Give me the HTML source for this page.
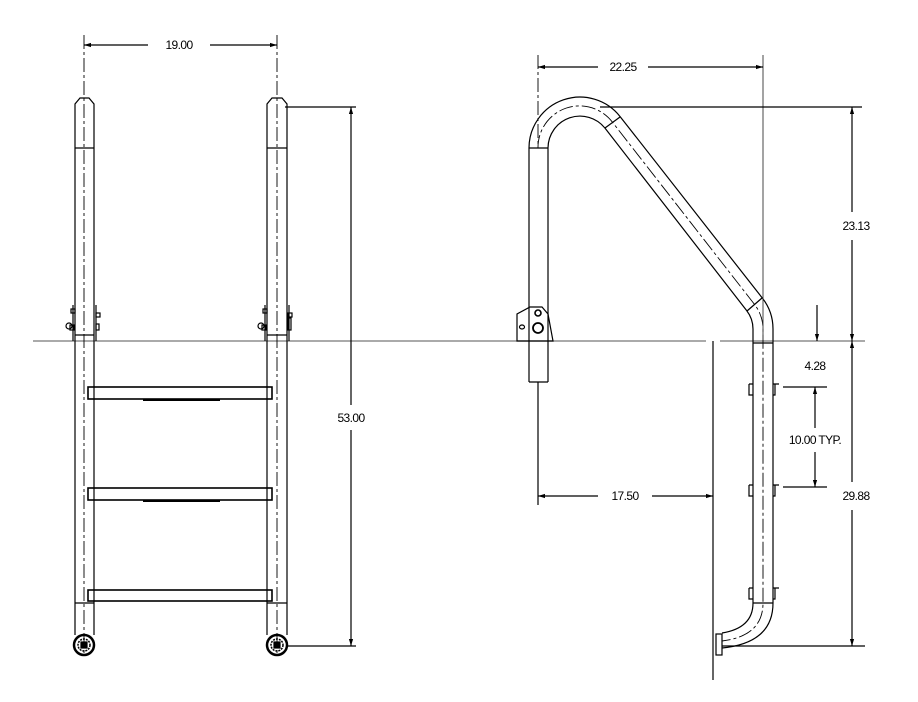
<!DOCTYPE html>
<html><head><meta charset="utf-8"><style>
html,body{margin:0;padding:0;background:#fff;}
svg{display:block;}
text{font-family:"Liberation Sans",sans-serif;font-size:12px;font-weight:normal;fill:#000;letter-spacing:-0.6px;}
</style></head><body>
<svg width="918" height="702" viewBox="0 0 918 702" xmlns="http://www.w3.org/2000/svg">
<defs>
<marker id="a" viewBox="0 0 10 10" refX="10" refY="5" markerWidth="7" markerHeight="7" orient="auto-start-reverse" markerUnits="userSpaceOnUse"><path d="M0,2 L10,5 L0,8 z" fill="#000"/></marker>
</defs>
<g fill="none" stroke="#000" stroke-width="1.2">
<line x1="33" y1="341" x2="706" y2="341" stroke="#777"/>
<line x1="720" y1="341" x2="865" y2="341" stroke="#777"/>

<path d="M75,635 V104 L80,98 H89 L94,104 V635"/>
<path d="M267,635 V104 L272,98 H282 L287,104 V635"/>
<line x1="75" y1="148" x2="94" y2="148"/><line x1="267" y1="148" x2="287" y2="148"/>
<line x1="75" y1="335" x2="94" y2="335"/><line x1="267" y1="335" x2="287" y2="335"/>
<line x1="75" y1="603" x2="94" y2="603"/><line x1="267" y1="603" x2="287" y2="603"/>
<line x1="84" y1="35" x2="84" y2="655" stroke-dasharray="14,3,3,3" stroke-width="0.9"/>
<line x1="277" y1="35" x2="277" y2="655" stroke-dasharray="14,3,3,3" stroke-width="0.9"/>
<rect x="71" y="309" width="4" height="4"/><rect x="96" y="313" width="4" height="4"/><rect x="96" y="324" width="3" height="6"/>
<circle cx="69" cy="326" r="3"/><rect x="70" y="325" width="4" height="5"/>
<rect x="263" y="309" width="4" height="4"/><rect x="288" y="313" width="4" height="4"/><rect x="288" y="318" width="3" height="12"/>
<circle cx="261" cy="326" r="3"/><rect x="262" y="325" width="4" height="5"/>
<line x1="73" y1="305" x2="73" y2="341"/><line x1="96" y1="305" x2="96" y2="341"/>
<line x1="265" y1="305" x2="265" y2="341"/><line x1="289" y1="305" x2="289" y2="341"/>
<rect x="88" y="387" width="184" height="12" stroke-width="1.6"/>
<rect x="88" y="488" width="184" height="12" stroke-width="1.6"/>
<rect x="88" y="590" width="184" height="11" stroke-width="1.6"/>
<line x1="143" y1="400" x2="220" y2="400" stroke-width="2"/>
<line x1="143" y1="501" x2="220" y2="501" stroke-width="2"/>
<circle cx="84" cy="645" r="10" stroke-width="2.5"/><circle cx="84" cy="645" r="6" stroke-width="1.5" stroke-dasharray="2,1"/><rect x="81" y="642" width="6" height="6" fill="#000"/>
<circle cx="277" cy="645" r="10" stroke-width="2.5"/><circle cx="277" cy="645" r="6" stroke-width="1.5" stroke-dasharray="2,1"/><rect x="274" y="642" width="6" height="6" fill="#000"/>
<line x1="84" y1="45" x2="148" y2="45" marker-start="url(#a)"/>
<line x1="210" y1="45" x2="277" y2="45" marker-end="url(#a)"/>
<line x1="285" y1="107" x2="356" y2="107"/>
<line x1="287" y1="646" x2="356" y2="646"/>
<line x1="351" y1="107" x2="351" y2="405" marker-start="url(#a)"/>
<line x1="351" y1="430" x2="351" y2="646" marker-end="url(#a)"/>

<path d="M529,382 V148 A51,51 0 0 1 620.2,116.7 L762.5,298.3 A50,50 0 0 1 773,329 V603 Q773,643 722,648"/>
<path d="M548,382 V148 A32,32 0 0 1 605.2,128.4 L746.7,310.6 A30,30 0 0 1 753,329 V603 Q753,628 722,633"/>
<line x1="529" y1="382" x2="548" y2="382"/>
<line x1="529" y1="148" x2="548" y2="148"/>
<line x1="605" y1="128" x2="620" y2="117"/>
<line x1="747" y1="311" x2="762" y2="298"/>
<line x1="753" y1="343" x2="773" y2="343"/>
<line x1="753" y1="603" x2="773" y2="603"/>
<path d="M538,55 V148 A41.5,41.5 0 0 1 612.7,122.5 L754.6,304.5 A40,40 0 0 1 763,329 V603 Q763,636 722,641" stroke-dasharray="14,3,3,3" stroke-width="0.9"/>
<rect x="716" y="634" width="6" height="21"/>
<path d="M517,341 V314 L530,307 H542 L548,314 L553,341 Z"/>
<circle cx="538" cy="313" r="3" stroke-width="1.6"/><circle cx="538" cy="328" r="5" stroke-width="1.8"/>
<ellipse cx="522" cy="327" rx="2.5" ry="2"/>
<path d="M749,384 V395 H753 M749,384 H753"/><path d="M773,384 H779 M775,384 V395 H773"/>
<path d="M749,485 V496 H753 M749,485 H753"/><path d="M773,485 H779 M775,485 V496 H773"/>
<path d="M749,588 V599 H753 M749,588 H753"/><path d="M773,588 H779 M775,588 V599 H773"/>
<line x1="713" y1="341" x2="713" y2="680"/>
<line x1="763" y1="55" x2="763" y2="340" stroke="#333" stroke-width="0.9"/>
<line x1="538" y1="67" x2="598" y2="67" marker-start="url(#a)"/>
<line x1="648" y1="67" x2="763" y2="67" marker-end="url(#a)"/>
<line x1="600" y1="107" x2="862" y2="107"/>
<line x1="852" y1="107" x2="852" y2="212" marker-start="url(#a)"/>
<line x1="852" y1="240" x2="852" y2="341" marker-end="url(#a)"/>
<line x1="852" y1="341" x2="852" y2="482" marker-start="url(#a)"/>
<line x1="852" y1="510" x2="852" y2="646" marker-end="url(#a)"/>
<line x1="722" y1="646" x2="865" y2="646"/>
<line x1="538" y1="382" x2="538" y2="505"/>
<line x1="538" y1="496" x2="598" y2="496" marker-start="url(#a)"/>
<line x1="652" y1="496" x2="713" y2="496" marker-end="url(#a)"/>
<line x1="817" y1="305" x2="817" y2="341" marker-end="url(#a)"/>
<line x1="783" y1="387" x2="827" y2="387"/>
<line x1="783" y1="487" x2="827" y2="487"/>
<line x1="815" y1="387" x2="815" y2="428" marker-start="url(#a)"/>
<line x1="815" y1="452" x2="815" y2="487" marker-end="url(#a)"/>
</g>
<text x="179" y="49" text-anchor="middle">19.00</text>
<text x="351" y="422" text-anchor="middle">53.00</text>
<text x="623" y="71" text-anchor="middle">22.25</text>
<text x="856" y="230" text-anchor="middle">23.13</text>
<text x="815" y="370" text-anchor="middle">4.28</text>
<text x="815" y="444" text-anchor="middle">10.00 TYP.</text>
<text x="856" y="500" text-anchor="middle">29.88</text>
<text x="625" y="500" text-anchor="middle">17.50</text>
</svg>
</body></html>
